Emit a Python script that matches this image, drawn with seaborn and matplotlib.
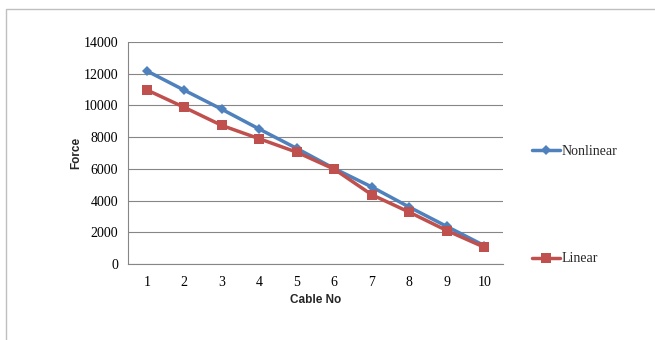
import matplotlib
matplotlib.use("Agg")
import matplotlib.pyplot as plt
import seaborn as sns
import pandas as pd
from matplotlib.patches import Rectangle

cable_no = [1, 2, 3, 4, 5, 6, 7, 8, 9, 10]
nonlinear = [12180, 10960, 9760, 8510, 7290, 6020, 4860, 3590, 2370, 1160]
linear = [10980, 9880, 8740, 7900, 7050, 5980, 4370, 3270, 2110, 1060]
series_names = ["Nonlinear", "Linear"]
yticks = [0, 2000, 4000, 6000, 8000, 10000, 12000, 14000]

df = pd.DataFrame({
    "Cable No": cable_no * 2,
    "Force": nonlinear + linear,
    "Series": [series_names[0]] * len(cable_no) + [series_names[1]] * len(cable_no),
})

sns.set_style("white")
plt.rcParams["font.family"] = ["Liberation Serif", "DejaVu Serif"]

fig = plt.figure(figsize=(6.55, 3.4), dpi=100)
ax = fig.add_axes([128 / 655, (340 - 264) / 340, (503 - 128) / 655, (264 - 42) / 340])

fig.patches.append(Rectangle((6 / 655, -0.1), 1.2, (340 - 9) / 340 + 0.1,
                             transform=fig.transFigure, fill=False,
                             edgecolor="#BFBFBF", linewidth=1.0, zorder=0))

sns.lineplot(data=df, x="Cable No", y="Force", hue="Series", style="Series",
             markers={"Nonlinear": "D", "Linear": "s"}, dashes=False,
             palette={"Nonlinear": "#4F81BD", "Linear": "#C0504D"},
             linewidth=2.5, markeredgewidth=0, ax=ax, legend=False)
for line, ms in zip(ax.lines, [5.5, 7.5]):
    line.set_markersize(ms)

ax.set_xlim(0.5, 10.5)
ax.set_ylim(0, 14000)
ax.set_yticks(yticks)
ax.set_xticks(cable_no)
ax.tick_params(axis="both", labelsize=10, colors="#000000", length=0, pad=9)
ax.tick_params(axis="y", length=4, color="#868686", width=0.8, direction="out", pad=3)
ax.grid(axis="y", color="#868686", linewidth=0.8)
ax.set_axisbelow(True)
for s in ["top", "right"]:
    ax.spines[s].set_visible(False)
for s in ["left", "bottom"]:
    ax.spines[s].set_color("#868686")
    ax.spines[s].set_linewidth(0.8)

ax.set_xlabel("Cable No", fontsize=8.5, fontweight="bold", family=["Liberation Sans", "DejaVu Sans"], labelpad=3)
ax.set_ylabel("Force", fontsize=8.5, fontweight="bold", family=["Liberation Sans", "DejaVu Sans"], labelpad=1)

handles = ax.lines[:2]
leg = fig.legend(handles, series_names, loc="upper left",
                 bbox_to_anchor=(525 / 655, (340 - 138) / 340), frameon=False,
                 fontsize=10, handlelength=2.0, handletextpad=0.1,
                 labelspacing=6.8, borderpad=0)

fig.savefig("out.png", dpi=100)
